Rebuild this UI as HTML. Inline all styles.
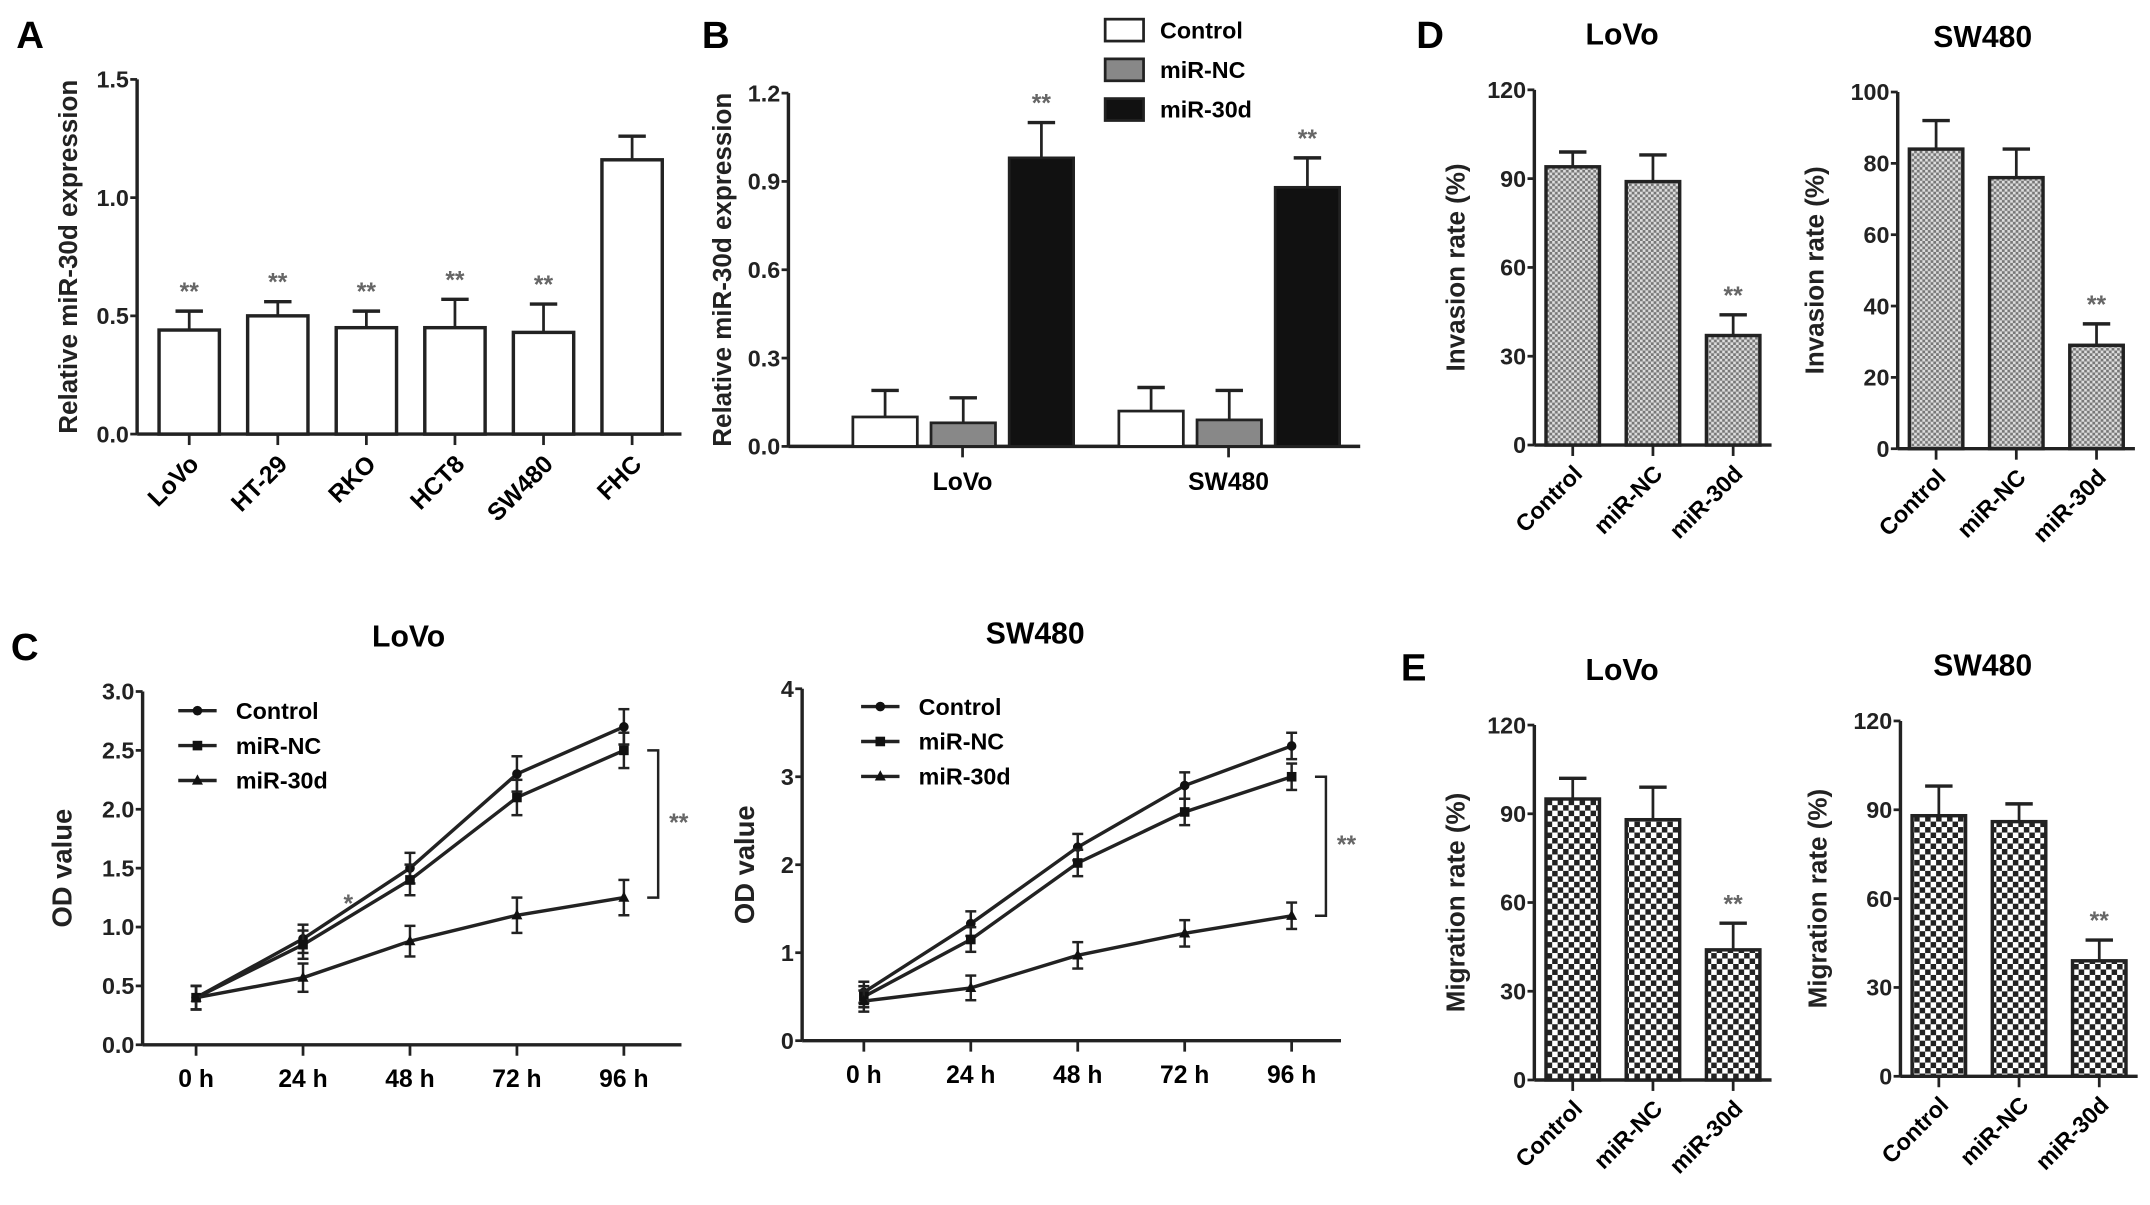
<!DOCTYPE html>
<html><head><meta charset="utf-8">
<style>
html,body{margin:0;padding:0;background:#fff;}
svg{display:block;font-family:"Liberation Sans",Arial,sans-serif;font-weight:bold;}
</style></head>
<body>
<svg id="fig" width="2150" height="1205" viewBox="0 0 1568 880" preserveAspectRatio="none" xmlns="http://www.w3.org/2000/svg">
<defs>
<pattern id="hatch" width="4" height="4" patternUnits="userSpaceOnUse">
<rect width="4" height="4" fill="#777"/><rect x="0" y="0" width="2" height="2" fill="#ddd"/><rect x="2" y="2" width="2" height="2" fill="#ddd"/>
</pattern>
<pattern id="checker" width="8" height="8" patternUnits="userSpaceOnUse">
<rect width="8" height="8" fill="#fff"/><rect x="0" y="0" width="4" height="4" fill="#222"/><rect x="4" y="4" width="4" height="4" fill="#222"/>
</pattern>
</defs>
<g id="root"></g>
</svg>
<script>
// Panel A
const aCats=["LoVo","HT-29","RKO","HCT8","SW480","FHC"];
const aVals=[0.44,0.50,0.45,0.45,0.43,1.16];
const aErr=[0.52,0.56,0.52,0.57,0.55,1.26];
const aTicks=["0.0","0.5","1.0","1.5"];
// Panel B
const bGroups=["LoVo","SW480"];
const bSeries=["Control","miR-NC","miR-30d"];
const bCtrl=[0.10,0.12];
const bNC=[0.08,0.09];
const b30d=[0.98,0.88];
const bCtrlErr=[0.19,0.20];
const bNCErr=[0.165,0.19];
const b30dErr=[1.10,0.98];
const bTicks=["0.0","0.3","0.6","0.9","1.2"];
// Panel C
const cTimes=["0 h","24 h","48 h","72 h","96 h"];
const cLoCtrl=[0.40,0.90,1.50,2.30,2.70];
const cLoNC=[0.40,0.85,1.40,2.10,2.50];
const cLo30d=[0.40,0.57,0.88,1.10,1.25];
const cLoErr=[0.10,0.12,0.13,0.15,0.15];
const cLoTicks=["0.0","0.5","1.0","1.5","2.0","2.5","3.0"];
const cSwCtrl=[0.55,1.33,2.20,2.90,3.35];
const cSwNC=[0.50,1.15,2.02,2.60,3.00];
const cSw30d=[0.45,0.60,0.97,1.22,1.42];
const cSwErr=[0.12,0.14,0.15,0.15,0.15];
const cSwTicks=["0","1","2","3","4"];
// Panels D, E
const deCats=["Control","miR-NC","miR-30d"];
const dLoVals=[94,89,37];
const dLoErr=[99,98,44];
const dLoTicks=["0","30","60","90","120"];
const dSwVals=[84,76,29];
const dSwErr=[92,84,35];
const dSwTicks=["0","20","40","60","80","100"];
const eLoVals=[95,88,44];
const eLoErr=[102,99,53];
const eLoTicks=["0","30","60","90","120"];
const eSwVals=[88,86,39];
const eSwErr=[98,92,46];
const eSwTicks=["0","30","60","90","120"];

const NS="http://www.w3.org/2000/svg";
const root=document.getElementById('root');
function el(tag,attrs,parent,text){
  const e=document.createElementNS(NS,tag);
  for(const k in attrs)e.setAttribute(k,attrs[k]);
  if(text!==undefined)e.textContent=text;
  (parent||root).appendChild(e);return e;
}
function txt(x,y,s,size,anchor,parent,extra){
  return el('text',Object.assign({x:x,y:y,'font-size':size,'text-anchor':anchor||'middle'},extra||{}),parent,s);
}
function yaxis(g,x,y0,y1,ticks,max,label,labelX,labelSize){
  const ys=v=>y0-(v/max)*(y0-y1);
  const ax=el('line',{x1:x,y1:y0,x2:x,y2:y1,stroke:'#222','stroke-width':2.5},g);
  
  ticks.forEach(t=>{const v=parseFloat(t);const y=ys(v);
    el('line',{x1:x-5,y1:y,x2:x,y2:y,stroke:'#222','stroke-width':2},g);
    const tl=txt(x-6,y+6,t,17,'end',g,{fill:'#222'});
    });
  const cy=(y0+y1)/2;
  const yl=txt(labelX,cy,label,labelSize||18,'middle',g,{transform:`rotate(-90 ${labelX} ${cy})`,fill:'#222'});
  
  return ys;
}
function errbar(g,x,ytop,ybase,w){
  el('line',{x1:x,y1:ybase,x2:x,y2:ytop,stroke:'#222','stroke-width':2},g);
  el('line',{x1:x-w,y1:ytop,x2:x+w,y2:ytop,stroke:'#222','stroke-width':2.5},g);
}
function stars(g,x,y,s){const t=txt(x,y,s||'**',18,'middle',g,{fill:'#666'});
  }

// Panel A
(function(){
  const g=el('g',{});
  txt(22,35,'A',28,'middle',g);
  const ys=yaxis(g,100,317,58,aTicks,1.5,'Relative miR-30d expression',56,19);
  el('line',{x1:100,y1:317,x2:497,y2:317,stroke:'#222','stroke-width':2.5},g);
  aCats.forEach((c,i)=>{const cx=138+i*64.6;
    const r=el('rect',{x:cx-22,y:ys(aVals[i]),width:44,height:317-ys(aVals[i]),fill:'#fff',stroke:'#222','stroke-width':2.5},g);
    
    errbar(g,cx,ys(aErr[i]),ys(aVals[i]),10);
    el('line',{x1:cx,y1:317,x2:cx,y2:325,stroke:'#222','stroke-width':2},g);
    const l=txt(cx+8,340,c,18,'end',g,{transform:`rotate(-45 ${cx+8} 340)`});
    
    if(i<5)stars(g,cx,ys(aErr[i])-8);
  });
})();

// Panel B
(function(){
  const g=el('g',{});
  txt(522,35,'B',28,'middle',g);
  const ys=yaxis(g,575,326,68,bTicks,1.2,'Relative miR-30d expression',533,19);
  el('line',{x1:575,y1:326,x2:992,y2:326,stroke:'#222','stroke-width':2.5},g);
  const fills=['#fff','#888','#111'];
  const vals=[bCtrl,bNC,b30d],errs=[bCtrlErr,bNCErr,b30dErr];
  const starts=[622,816];
  bGroups.forEach((grp,gi)=>{
    for(let s=0;s<3;s++){const x=starts[gi]+s*57;const v=vals[s][gi];
      const r=el('rect',{x:x,y:ys(v),width:47,height:326-ys(v),fill:fills[s],stroke:'#222','stroke-width':2},g);
      
      errbar(g,x+23.5,ys(errs[s][gi]),ys(v),10);
      if(s===2)stars(g,x+23.5,ys(errs[s][gi])-8);
    }
    const cx=starts[gi]+80;
    el('line',{x1:cx,y1:326,x2:cx,y2:334,stroke:'#222','stroke-width':2},g);
    const l=txt(cx,358,grp,18,'middle',g);
  });
  bSeries.forEach((s,i)=>{const y=22+i*29;
    const lg=el('g',{},g);
    el('rect',{x:806,y:y-8,width:28,height:16,fill:fills[i],stroke:'#222','stroke-width':2},lg);
    txt(846,y+6,s,17,'start',lg);});
})();

// Panel C
function lineChart(name,ox,x0,y0,y1,max,ticks,series,err,title,titleX,legendX,legendY,yLabelX){
  const g=el('g',{});
  const ys=yaxis(g,ox,y0,y1,ticks,max,'OD value',yLabelX,20);
  el('line',{x1:ox,y1:y0,x2:ox+393,y2:y0,stroke:'#222','stroke-width':2.5},g);
  const xs=i=>x0+i*78;
  cTimes.forEach((t,i)=>{el('line',{x1:xs(i),y1:y0,x2:xs(i),y2:y0+8,stroke:'#222','stroke-width':2},g);
    const l=txt(xs(i),y0+31,t,18,'middle',g);});
  const tt=txt(titleX,y1-33,title,22,'middle',g);
  const names=['control','mir-nc','mir-30d'];
  function marker(p,x,y,k){
    if(k===0)el('circle',{cx:x,cy:y,r:3.5,fill:'#111'},p);
    else if(k===1)el('rect',{x:x-3.5,y:y-3.5,width:7,height:7,fill:'#111'},p);
    else el('polygon',{points:`${x},${y-4.5} ${x+4},${y+3} ${x-4},${y+3}`,fill:'#111'},p);
  }
  series.forEach((vals,k)=>{
    const sg=el('g',{},g);
    el('polyline',{points:vals.map((v,i)=>xs(i)+','+ys(v)).join(' '),fill:'none',stroke:'#222','stroke-width':2.5},sg);
    vals.forEach((v,i)=>{
      const e=err[i];
      el('line',{x1:xs(i),y1:ys(v+e),x2:xs(i),y2:ys(v-e),stroke:'#222','stroke-width':1.8},sg);
      el('line',{x1:xs(i)-4,y1:ys(v+e),x2:xs(i)+4,y2:ys(v+e),stroke:'#222','stroke-width':1.8},sg);
      el('line',{x1:xs(i)-4,y1:ys(v-e),x2:xs(i)+4,y2:ys(v-e),stroke:'#222','stroke-width':1.8},sg);
      marker(sg,xs(i),ys(v),k);
    });
  });
  ['Control','miR-NC','miR-30d'].forEach((s,k)=>{const y=legendY+k*25.5;
    const lg=el('g',{},g);
    el('line',{x1:legendX,y1:y,x2:legendX+28,y2:y,stroke:'#222','stroke-width':2.5},lg);
    marker(lg,legendX+14,y,k);
    txt(legendX+42,y+6,s,17,'start',lg);});
  const bx=xs(4)+25;const yt=ys(series[1][4]),yb=ys(series[2][4]);
  el('polyline',{points:`${bx-8},${yt} ${bx},${yt} ${bx},${yb} ${bx-8},${yb}`,fill:'none',stroke:'#222','stroke-width':1.8},g);
  stars(g,bx+15,(yt+yb)/2+5);
  return {g,xs,ys};
}
txt(18,482,'C',28,'middle');
const cl=lineChart('panel-c-lovo',104,143,763,505,3.0,cLoTicks,[cLoCtrl,cLoNC,cLo30d],cLoErr,'LoVo',298,130,519,52);
stars(cl.g,254,666,'*');
lineChart('panel-c-sw480',585,630,760,503,4,cSwTicks,[cSwCtrl,cSwNC,cSw30d],cSwErr,'SW480',755,628,516,550);

// Panels D, E
function barPanel(name,ox,y0,y1,max,ticks,vals,err,fill,label,title,titleX,yLabelX){
  const g=el('g',{});
  const ys=yaxis(g,ox,y0,y1,ticks,max,label,yLabelX,19);
  el('line',{x1:ox,y1:y0,x2:ox+173,y2:y0,stroke:'#222','stroke-width':2.5},g);
  const tt=txt(titleX,y1-33,title,22,'middle',g);
  deCats.forEach((c,i)=>{const cx=ox+28+i*58.5;
    const r=el('rect',{x:cx-19.5,y:ys(vals[i]),width:39,height:y0-ys(vals[i]),fill:fill,stroke:'#222','stroke-width':2.5},g);
    
    errbar(g,cx,ys(err[i]),ys(vals[i]),10);
    el('line',{x1:cx,y1:y0,x2:cx,y2:y0+8,stroke:'#222','stroke-width':2},g);
    const l=txt(cx+8,y0+22,c,17,'end',g,{transform:`rotate(-45 ${cx+8} ${y0+22})`});
    
    if(i===2)stars(g,cx,ys(err[i])-8);
  });
}
txt(1043,35,'D',28,'middle');
barPanel('panel-d-lovo',1119,325,65.6,120,dLoTicks,dLoVals,dLoErr,'url(#hatch)','Invasion rate (%)','LoVo',1183,1068);
barPanel('panel-d-sw480',1384,327.7,67.2,100,dSwTicks,dSwVals,dSwErr,'url(#hatch)','Invasion rate (%)','SW480',1446,1330);
txt(1031,497,'E',28,'middle');
barPanel('panel-e-lovo',1119,788.7,529.5,120,eLoTicks,eLoVals,eLoErr,'url(#checker)','Migration rate (%)','LoVo',1183,1068);
barPanel('panel-e-sw480',1386,786,526.5,120,eSwTicks,eSwVals,eSwErr,'url(#checker)','Migration rate (%)','SW480',1446,1332);
</script>
</body></html>
